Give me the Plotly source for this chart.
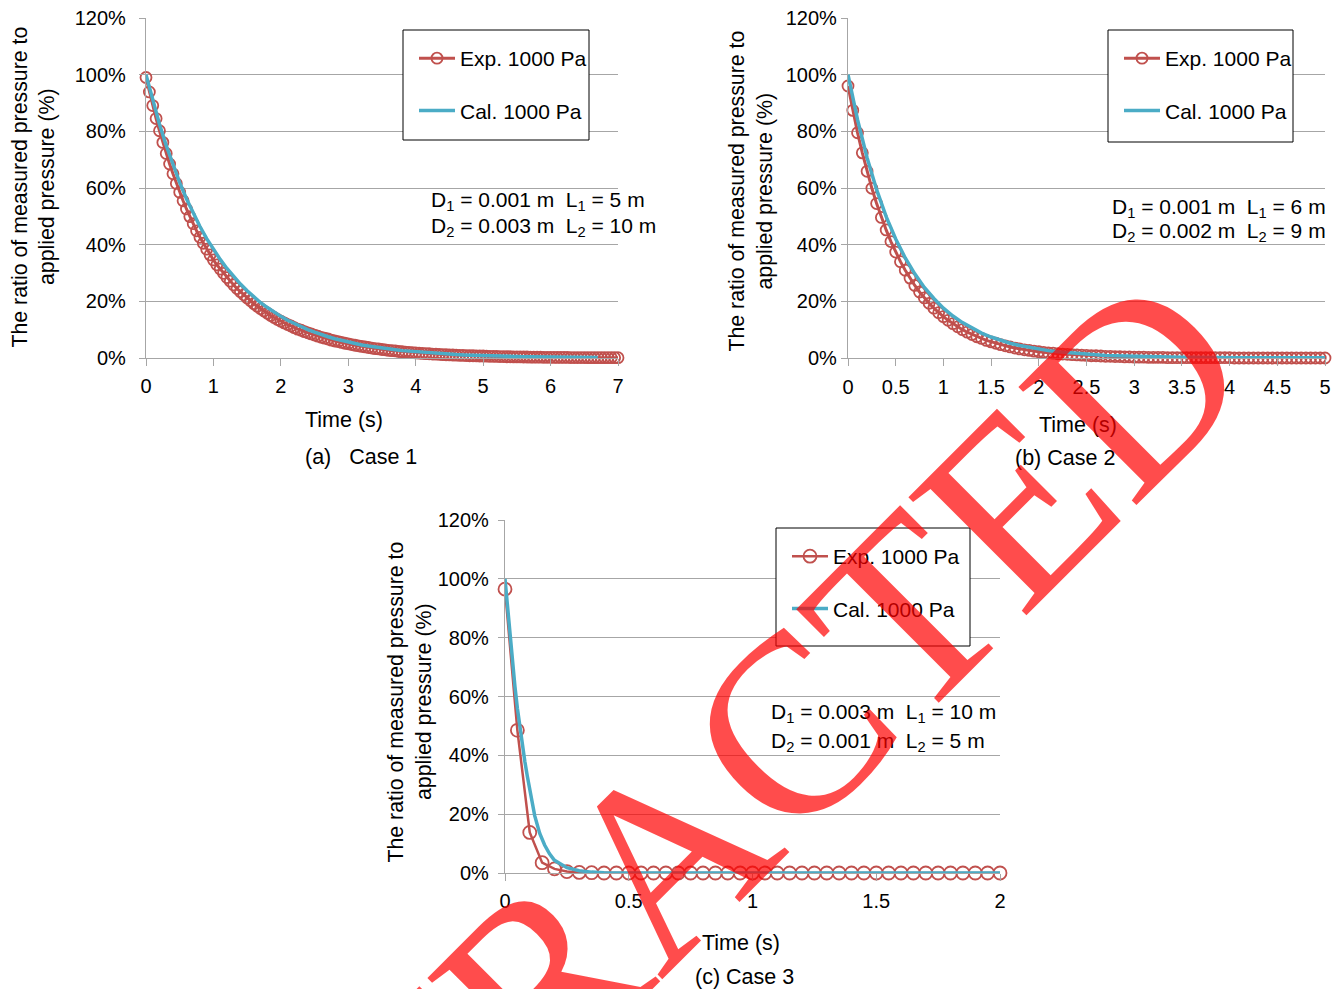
import numpy as np
import plotly.graph_objects as go

# ---------------- data ----------------
dt_exp = 0.05  # sampling step of the experimental circles (s)

exp_a = [99.0, 93.9, 89.1, 84.5, 80.2, 76.1, 72.2, 68.5, 65.0, 61.6, 58.5,
         55.5, 52.6, 49.9, 47.4, 44.9, 42.6, 40.5, 38.4, 36.4, 34.6,
         32.9, 31.4, 29.9, 28.4, 27.1, 25.8, 24.5, 23.4, 22.3, 21.2,
         20.2, 19.2, 18.3, 17.4, 16.6, 15.8, 15.0, 14.3, 13.6, 13.0,
         12.4, 11.8, 11.3, 10.7, 10.2, 9.8, 9.3, 8.9, 8.5, 8.1,
         7.7, 7.3, 7.0, 6.7, 6.3, 6.0, 5.8, 5.5, 5.2, 5.0,
         4.75, 4.5, 4.3, 4.1, 3.9, 3.7, 3.5, 3.3, 3.2, 3.0,
         2.9, 2.7, 2.6, 2.5, 2.3, 2.2, 2.1, 2.0, 1.9, 1.8,
         1.7, 1.6, 1.55, 1.5, 1.4, 1.35, 1.3, 1.2, 1.15, 1.1,
         1.05, 1.0, 0.95, 0.9, 0.85, 0.8, 0.8, 0.75, 0.7, 0.7,
         0.65, 0.6, 0.6, 0.55, 0.5, 0.5, 0.45, 0.45, 0.4, 0.4,
         0.4, 0.35, 0.35, 0.3, 0.3, 0.3, 0.3, 0.25, 0.25, 0.25,
         0.2, 0.2, 0.2, 0.2, 0.2, 0.15, 0.15, 0.15, 0.15, 0.15,
         0.1, 0.1, 0.1, 0.1, 0.1, 0.1, 0.1, 0.1, 0.1, 0.1]
t_cal_a = [0.0, 0.1, 0.2, 0.3, 0.4, 0.5, 0.6, 0.7, 0.8, 0.9, 1.0,
           1.1, 1.2, 1.3, 1.4, 1.5, 1.6, 1.7, 1.8, 1.9, 2.0,
           2.1, 2.2, 2.3, 2.4, 2.5, 2.6, 2.7, 2.8, 2.9, 3.0,
           3.1, 3.2, 3.3, 3.4, 3.5, 3.6, 3.7, 3.8, 3.9, 4.0,
           4.1, 4.2, 4.3, 4.4, 4.5, 4.6, 4.7, 4.8, 4.9, 5.0,
           5.1, 5.2, 5.3, 5.4, 5.5, 5.6, 5.7, 5.8, 5.9, 6.0,
           6.1, 6.2, 6.3, 6.4, 6.5, 6.6, 6.7]
cal_a = [100, 90.8, 82.5, 75.0, 68.1, 61.9, 56.2, 51.1, 46.4, 42.1, 38.3,
         34.8, 31.6, 28.7, 26.1, 23.7, 21.5, 19.5, 17.8, 16.1, 14.7,
         13.3, 12.1, 11.0, 10.0, 9.1, 8.2, 7.5, 6.8, 6.2, 5.6,
         5.1, 4.6, 4.2, 3.8, 3.5, 3.2, 2.9, 2.6, 2.4, 2.2,
         2.0, 1.8, 1.6, 1.5, 1.3, 1.2, 1.1, 1.0, 0.9, 0.8,
         0.75, 0.7, 0.6, 0.55, 0.5, 0.45, 0.4, 0.4, 0.35, 0.3,
         0.3, 0.25, 0.25, 0.2, 0.2, 0.2, 0.2]

exp_b = [96.0, 87.4, 79.5, 72.4, 65.9, 59.9, 54.5, 49.6, 45.2, 41.1, 37.4,
         34.0, 31.0, 28.2, 25.6, 23.3, 21.2, 19.3, 17.6, 16.0, 14.6,
         13.3, 12.1, 11.0, 10.0, 9.1, 8.3, 7.5, 6.9, 6.2, 5.7,
         5.2, 4.7, 4.3, 3.9, 3.5, 3.2, 2.9, 2.7, 2.4, 2.2,
         2.0, 1.8, 1.7, 1.5, 1.4, 1.3, 1.2, 1.1, 1.0, 0.9,
         0.8, 0.8, 0.7, 0.6, 0.6, 0.5, 0.5, 0.4, 0.4, 0.3,
         0.3, 0.3, 0.2, 0.2, 0.2, 0.2, 0.1, 0.1, 0.1, 0.1,
         0.1, 0.1, 0.1, 0.1, 0.1, 0.1, 0.1, 0.1, 0.1, 0.1,
         0.0, 0.0, 0.0, 0.0, 0.0, 0.0, 0.0, 0.0, 0.0, 0.0,
         0.0, 0.0, 0.0, 0.0, 0.0, 0.0, 0.0, 0.0, 0.0, 0.0]
t_cal_b = [0.0, 0.1, 0.2, 0.3, 0.4, 0.5, 0.6, 0.7, 0.8, 0.9, 1.0,
           1.1, 1.2, 1.3, 1.4, 1.5, 1.6, 1.7, 1.8, 1.9, 2.0,
           2.1, 2.2, 2.3, 2.4, 2.5, 2.6, 2.7, 2.8, 2.9, 3.0,
           3.1, 3.2, 3.3, 3.4, 3.5, 3.6, 3.7, 3.8, 3.9, 4.0,
           4.1, 4.2, 4.3, 4.4, 4.5, 4.6, 4.7, 4.8, 4.9, 5.0]
cal_b = [100, 84.1, 70.7, 59.4, 49.9, 42.0, 35.3, 29.7, 24.9, 21.0, 17.6,
         14.8, 12.5, 10.5, 8.8, 7.4, 6.2, 5.2, 4.4, 3.7, 3.1,
         2.6, 2.2, 1.9, 1.6, 1.3, 1.1, 0.9, 0.8, 0.7, 0.6,
         0.5, 0.4, 0.4, 0.3, 0.3, 0.3, 0.2, 0.2, 0.2, 0.2,
         0.1, 0.1, 0.1, 0.1, 0.1, 0.1, 0.1, 0.1, 0.1, 0.1]

exp_c = [96.5, 48.5, 13.8, 3.5, 1.4, 0.5, 0.2, 0.1, 0.0, 0.0, 0.0,
         0.0, 0.0, 0.0, 0.0, 0.0, 0.0, 0.0, 0.0, 0.0, 0.0,
         0.0, 0.0, 0.0, 0.0, 0.0, 0.0, 0.0, 0.0, 0.0, 0.0,
         0.0, 0.0, 0.0, 0.0, 0.0, 0.0, 0.0, 0.0, 0.0, 0.0]
t_cal_c = [0.0, 0.01, 0.02, 0.03, 0.04, 0.05, 0.06, 0.07, 0.08, 0.09, 0.10,
           0.12, 0.14, 0.16, 0.18, 0.20, 0.25, 0.30, 0.35, 0.40, 0.5,
           0.75, 1.0, 1.25, 1.5, 1.75, 2.0]
cal_c = [100, 90, 81, 72, 63.5, 56, 49.5, 43.5, 38, 33, 28.5,
         19.5, 13.5, 9.5, 6.5, 4.3, 1.8, 0.8, 0.3, 0.1, 0.0,
         0.0, 0.0, 0.0, 0.0, 0.0, 0.0]

y_ticks = [0, 20, 40, 60, 80, 100, 120]
y_tick_text = ["0%", "20%", "40%", "60%", "80%", "100%", "120%"]
x_ticks_a = [0, 1, 2, 3, 4, 5, 6, 7]
x_ticks_b = [0, 0.5, 1, 1.5, 2, 2.5, 3, 3.5, 4, 4.5, 5]
x_ticks_c = [0, 0.5, 1, 1.5, 2]

series_names = ["Exp. 1000 Pa", "Cal. 1000 Pa"]
y_title_1 = "The ratio of measured pressure to"
y_title_2 = "applied pressure (%)"
x_title = "Time (s)"
captions = ["(a)\u00a0\u00a0\u00a0Case 1", "(b) Case 2", "(c) Case 3"]
params = [("0.001", "5", "0.003", "10"),
          ("0.001", "6", "0.002", "9"),
          ("0.003", "10", "0.001", "5")]

# ---------------- styling ----------------
W, H = 1340, 989
RED = "#C0504D"
CYAN = "#4BACC6"
GRID = "#A6A6A6"
FONT = "Liberation Sans, Arial, sans-serif"


def px(x):
    return x / W


def py(y):
    return 1 - y / H


# pixel geometry of each panel
panels = [
    dict(exp=exp_a, tc=t_cal_a, cal=cal_a, xr=[0, 7], xt=x_ticks_a,
         box=(146, 618, 358, 18), msize=11, ew=3,
         ytl=(19.5, 47, 187), xtl=(344, 420), cap=(361, 457),
         prm=(429, 199, 225), leg=(403, 30, 589, 140), std=(3, 9)),
    dict(exp=exp_b, tc=t_cal_b, cal=cal_b, xr=[0, 5], xt=x_ticks_b,
         box=(848, 1325, 358, 18), msize=11, ew=3,
         ytl=(736.5, 764.5, 191), xtl=(1078, 425), cap=(1065, 458),
         prm=(1110, 206, 230), leg=(1108, 30, 1293, 142), std=(4, 0)),
    dict(exp=exp_c, tc=t_cal_c, cal=cal_c, xr=[0, 2], xt=x_ticks_c,
         box=(505, 1000, 873, 520), msize=13, ew=2.5,
         ytl=(395.5, 424, 702), xtl=(741, 943), cap=(744, 977),
         prm=(769, 711, 740), leg=(776, 528, 970, 646), std=(3, 5)),
]

fig = go.Figure()
layout = dict(width=W, height=H,
              margin=dict(l=0, r=0, t=0, b=0, pad=0, autoexpand=False),
              paper_bgcolor="white", plot_bgcolor="white",
              font=dict(family=FONT, size=20, color="black"),
              showlegend=True)
annotations = []
shapes = []

for i, p in enumerate(panels):
    sfx = "" if i == 0 else str(i + 1)
    xa, ya = "x" + sfx, "y" + sfx
    lg = "legend" + sfx
    t_exp = np.round(np.arange(len(p["exp"])) * dt_exp, 2)

    fig.add_trace(go.Scatter(
        x=t_exp, y=p["exp"], mode="lines+markers", name=series_names[0],
        line=dict(color=RED, width=p["ew"]),
        marker=dict(symbol="circle-open", size=p["msize"],
                    line=dict(width=1.8, color=RED)),
        xaxis=xa, yaxis=ya, legend=lg, legendgroup="e" + sfx,
        cliponaxis=False))
    fig.add_trace(go.Scatter(
        x=p["tc"], y=p["cal"], mode="lines", name=series_names[1],
        line=dict(color=CYAN, width=3.5),
        xaxis=xa, yaxis=ya, legend=lg, legendgroup="c" + sfx,
        cliponaxis=False))

    x0, x1, yb, yt = p["box"]
    layout["xaxis" + sfx] = dict(
        domain=[px(x0), px(x1)], range=p["xr"], anchor=ya,
        tickvals=p["xt"], ticks="outside", ticklen=7, tickcolor=GRID,
        tickwidth=1.3, showgrid=False, zeroline=False, showline=True,
        linecolor=GRID, linewidth=1.3, ticklabelstandoff=p["std"][0],
        automargin=False,
        tickfont=dict(size=20, family=FONT, color="black"))
    layout["yaxis" + sfx] = dict(
        domain=[py(yb), py(yt)], range=[0, 120], anchor=xa,
        tickmode="array", tickvals=y_ticks, ticktext=y_tick_text,
        ticks="outside", ticklen=6,
        tickcolor=GRID, tickwidth=1.3, showgrid=True, gridcolor=GRID,
        gridwidth=1.3, zeroline=False, showline=True, linecolor=GRID,
        linewidth=1.3, ticklabelstandoff=p["std"][1], automargin=False,
        tickfont=dict(size=20, family=FONT, color="black"))

    # legend box (white with black frame) and the legend itself
    lx0, ly0, lx1, ly1 = p["leg"]
    shapes.append(dict(type="rect", xref="paper", yref="paper",
                       x0=px(lx0), x1=px(lx1), y0=py(ly1), y1=py(ly0),
                       line=dict(color="black", width=1),
                       fillcolor="white", layer="above"))
    layout[lg] = dict(x=px(lx0 + 11), y=py(ly0 + 8), xanchor="left",
                      yanchor="top", bgcolor="rgba(0,0,0,0)",
                      borderwidth=0, traceorder="grouped",
                      tracegroupgap=22, itemwidth=36,
                      font=dict(size=21, family=FONT, color="black"))

    # axis titles
    a1x, a2x, ay = p["ytl"]
    annotations.append(dict(text=y_title_1, x=px(a1x), y=py(ay),
                            textangle=-90, font=dict(size=21.3)))
    annotations.append(dict(text=y_title_2, x=px(a2x), y=py(ay),
                            textangle=-90, font=dict(size=21.3)))
    annotations.append(dict(text=x_title, x=px(p["xtl"][0]),
                            y=py(p["xtl"][1]), font=dict(size=21.5)))
    annotations.append(dict(text=captions[i], x=px(p["cap"][0]),
                            y=py(p["cap"][1]), font=dict(size=21.5)))

    # pipe parameters
    d1, l1, d2, l2 = params[i]
    sp = "\u00a0\u00a0"
    px0, r1, r2 = p["prm"]
    annotations.append(dict(
        text=f"D<sub>1</sub> = {d1} m{sp}L<sub>1</sub> = {l1} m",
        x=px(px0), y=py(r1 + 2), xanchor="left", font=dict(size=21)))
    annotations.append(dict(
        text=f"D<sub>2</sub> = {d2} m{sp}L<sub>2</sub> = {l2} m",
        x=px(px0), y=py(r2 + 2), xanchor="left", font=dict(size=21)))

for a in annotations:
    a.setdefault("xref", "paper")
    a.setdefault("yref", "paper")
    a.setdefault("showarrow", False)
    a.setdefault("xanchor", "center")
    a.setdefault("yanchor", "middle")
    a.setdefault("font", dict(size=20))
    a["font"] = dict(family=FONT, color="black", **a["font"])

# stamp across the figure
annotations.append(dict(
    text="EXTRACTED", xref="paper", yref="paper", x=px(665), y=py(855),
    xanchor="center", yanchor="middle", showarrow=False, textangle=-45,
    font=dict(family="Liberation Serif, Times New Roman, serif", size=255,
              color="rgba(255,0,0,0.7)")))

layout["annotations"] = annotations
layout["shapes"] = shapes
fig.update_layout(**layout)
fig.write_html("out.html")
